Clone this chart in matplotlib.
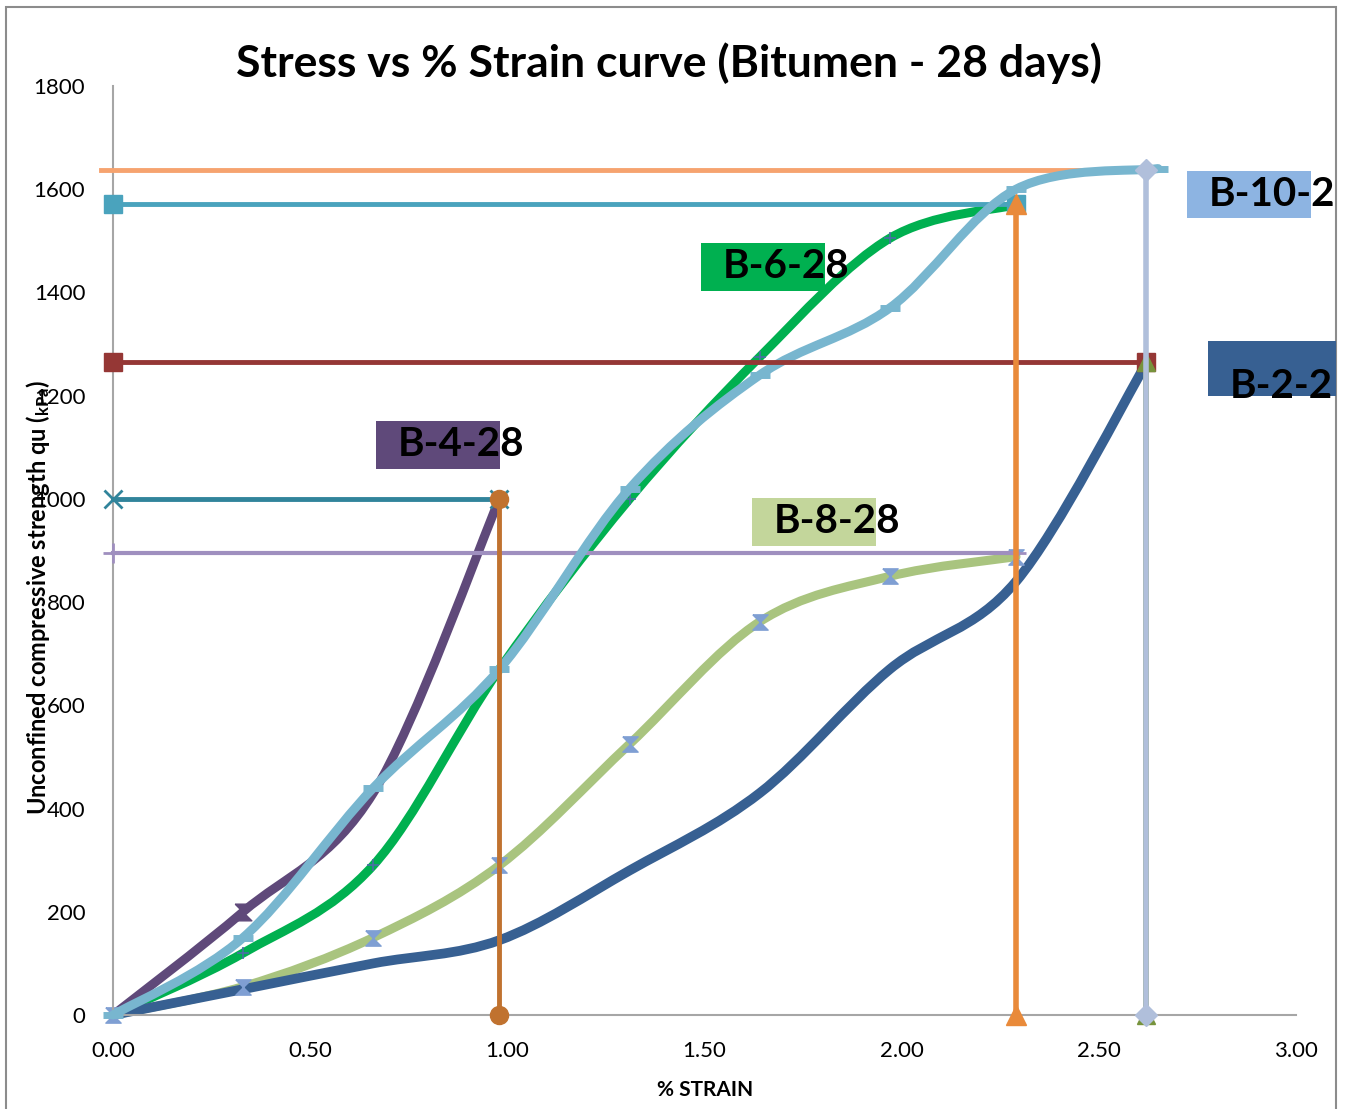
import numpy as np
import matplotlib
matplotlib.use("Agg")
import matplotlib.pyplot as plt
from matplotlib.path import Path
from matplotlib.patches import PathPatch, Rectangle

plt.rcParams['font.family'] = ['Lato', 'DejaVu Sans']
plt.rcParams['mathtext.fontset'] = 'custom'
plt.rcParams['mathtext.rm'] = 'Lato'
plt.rcParams['mathtext.bf'] = 'Lato:bold'

# strain readings (%) and stress (kPa)
b4_x = [0.0, 0.33, 0.66, 0.98]
b4_y = [0, 200, 430, 1000]
b6_x = [0.0, 0.33, 0.66, 0.98, 1.31, 1.64, 1.97, 2.29]
b6_y = [0, 120, 290, 670, 1000, 1275, 1505, 1570]
b10_x = [0.0, 0.33, 0.66, 0.98, 1.31, 1.64, 1.97, 2.29, 2.65]
b10_y = [0, 150, 440, 670, 1020, 1240, 1370, 1600, 1640]
b8_x = [0.0, 0.33, 0.66, 0.98, 1.31, 1.64, 1.97, 2.29]
b8_y = [0, 55, 150, 290, 525, 762, 850, 888]
b2_x = [0.0, 0.33, 0.66, 0.98, 1.31, 1.64, 1.97, 2.29, 2.62]
b2_y = [0, 50, 100, 145, 280, 430, 670, 840, 1262]

# peak guide lines: strain at failure, peak stress
peak_b4 = (0.98, 1000)
peak_b6 = (2.29, 1572)
peak_b8 = (2.29, 895)
peak_b2 = (2.62, 1266)
peak_b10 = (2.62, 1637)

x_ticks = [0.0, 0.5, 1.0, 1.5, 2.0, 2.5, 3.0]
y_ticks = [0, 200, 400, 600, 800, 1000, 1200, 1400, 1600, 1800]

W, H = 1348, 1109


def fx(px):
    return px / W


def fy(py):
    return 1 - py / H


def smooth_path(xs, ys):
    # excel style smoothed line -> cubic bezier segments
    pts = np.column_stack([xs, ys]).astype(float)
    n = len(pts)
    verts = [pts[0]]
    codes = [Path.MOVETO]
    for i in range(n - 1):
        p0 = pts[max(i - 1, 0)]
        p1 = pts[i]
        p2 = pts[i + 1]
        p3 = pts[min(i + 2, n - 1)]
        verts += [p1 + (p2 - p0) / 6, p2 - (p3 - p1) / 6, p2]
        codes += [Path.CURVE4] * 3
    return Path(verts, codes)


def curve(ax, xs, ys, color, lw, z):
    ax.add_patch(PathPatch(smooth_path(xs, ys), fill=False, ec=color, lw=lw,
                           capstyle='round', joinstyle='round', zorder=z, clip_on=False))


hourglass = Path([(-1, 1), (1, 1), (-1, -1), (1, -1), (-1, 1)])

fig = plt.figure(figsize=(W / 100, H / 100), dpi=100)
ax = fig.add_axes([fx(113), fy(1015), fx(1296) - fx(113), fy(86) - fy(1015)])

# curves
curve(ax, b4_x, b4_y, '#5f497a', 6.5, 2)
ax.plot(b4_x[1:2], b4_y[1:2], ls='none', marker=hourglass, ms=12, color='#5f497a', zorder=2.1, clip_on=False)
curve(ax, b6_x, b6_y, '#00b050', 6.5, 2)
ax.plot(b6_x, b6_y, ls='none', marker='+', ms=9, mew=1.2, color='#4a6fa5', zorder=2.1, clip_on=False)
curve(ax, b8_x, b8_y, '#a9c47f', 6.5, 2)
ax.plot(b8_x, b8_y, ls='none', marker=hourglass, ms=11, color='#7f9fd3', zorder=2.1, clip_on=False)
curve(ax, b2_x, b2_y, '#376092', 7, 2)

# horizontal peak lines
ax.plot([0, peak_b8[0]], [peak_b8[1]] * 2, color='#9f8fbf', lw=3, marker='+', ms=14, mew=2,
        zorder=3, clip_on=False)
curve(ax, b10_x, b10_y, '#78b6cf', 6.5, 3.5)
ax.plot(b10_x, b10_y, ls='none', marker='_', ms=14, mew=5, color='#78b6cf', zorder=3.6, clip_on=False)
ax.plot([-0.03, peak_b10[0]], [peak_b10[1]] * 2, color='#f6a36f', lw=3.5, zorder=3.2, clip_on=False)
ax.plot([0, peak_b6[0]], [peak_b6[1]] * 2, color='#4aa3bd', lw=3.5, marker='s', ms=13,
        zorder=3, clip_on=False)
ax.plot([0, peak_b2[0]], [peak_b2[1]] * 2, color='#953735', lw=3.5, marker='s', ms=13,
        zorder=4, clip_on=False)
ax.plot([0, peak_b4[0]], [peak_b4[1]] * 2, color='#31849b', lw=3.5, marker='x', ms=13, mew=2,
        zorder=3, clip_on=False)

# vertical peak lines
ax.plot([peak_b4[0]] * 2, [0, peak_b4[1]], color='#c0722f', lw=3.5, marker='o', ms=13,
        zorder=4, clip_on=False)
ax.plot([peak_b6[0]] * 2, [0, peak_b6[1]], color='#e98a3a', lw=4, marker='^', ms=14,
        zorder=5, clip_on=False)
ax.plot([peak_b2[0]] * 2, [0, peak_b2[1]], color='#77933c', lw=4, marker='^', ms=13,
        zorder=4.5, clip_on=False)
ax.plot([peak_b10[0]] * 2, [0, peak_b10[1]], color='#b0bfdb', lw=4, marker='D', ms=11,
        zorder=5, clip_on=False)

ax.set_xlim(0, 3)
ax.set_ylim(0, 1800)
ax.set_xticks(x_ticks)
ax.set_xticklabels(['%.2f' % v for v in x_ticks])
ax.set_yticks(y_ticks)
ax.tick_params(length=0, labelsize=16)
ax.tick_params(axis='y', pad=20)
ax.tick_params(axis='x', pad=19)
for s in ['top', 'right']:
    ax.spines[s].set_visible(False)
for s in ['left', 'bottom']:
    ax.spines[s].set_color('#a6a6a6')
    ax.spines[s].set_linewidth(1.5)

fig.text(fx(669), fy(63), 'Stress vs % Strain curve (Bitumen - 28 days)',
         ha='center', va='center', fontsize=32, fontweight='bold')
fig.text(fx(705), fy(1090), '% STRAIN', ha='center', va='center', fontsize=15, fontweight='bold')
fig.text(fx(38), fy(597), r'Unconfined compressive strength qu ($\mathbf{_{kPa}}$)',
         rotation=90, ha='center', va='center', fontsize=17, fontweight='bold')

# series name tags: box (left, top, right, bottom in px), colour, text centre y
tags = [
    ('B-10-2', (1187, 171, 1311, 218), '#8db4e2', 194),
    ('B-2-2', (1208, 341, 1336, 396), '#376092', 387),
    ('B-6-28', (701, 243, 825, 291), '#00b050', 266),
    ('B-8-28', (752, 498, 876, 546), '#c3d69b', 521),
    ('B-4-28', (376, 421, 500, 469), '#5f497a', 445),
]
for name, (l, t, r, b), col, cy in tags:
    fig.patches.append(Rectangle((fx(l), fy(b)), fx(r) - fx(l), fy(t) - fy(b),
                                 transform=fig.transFigure, fc=col, ec='none', zorder=6))
    fig.text(fx(l + 22), fy(cy), name, ha='left', va='center', fontsize=29,
             fontweight='bold', zorder=7)

fig.patches.append(Rectangle((fx(6), -0.01), fx(1336) - fx(6), fy(7) + 0.01,
                             transform=fig.transFigure, fill=False, ec='#8c8c8c', lw=1.5))

fig.savefig('out.png', dpi=100)
